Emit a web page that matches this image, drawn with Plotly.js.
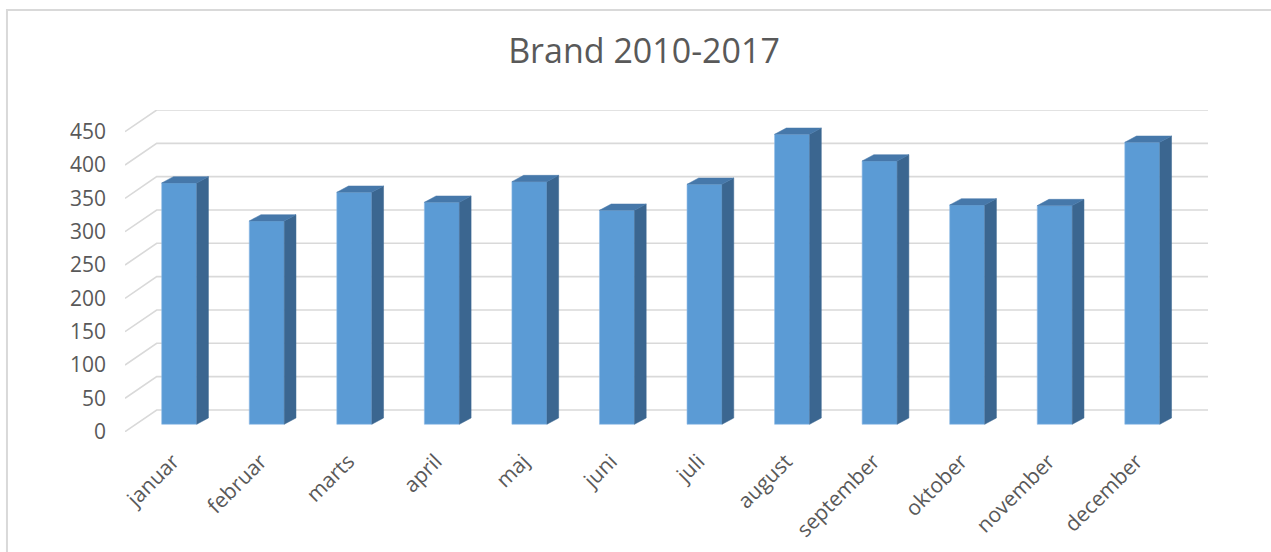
<!DOCTYPE html>
<html>
<head>
<meta charset="utf-8">
<script src="https://cdn.plot.ly/plotly-3.0.1.min.js"></script>
<style>
  html, body { margin: 0; padding: 0; background: #ffffff; }
  #chart { width: 1271px; height: 552px; }
</style>
</head>
<body>
<div id="chart"></div>
<script>
// ---- data ----
var months = ["januar", "februar", "marts", "april", "maj", "juni", "juli", "august", "september", "oktober", "november", "december"];
var counts = [362, 305, 348, 333, 364, 321, 360, 435, 395, 329, 328, 423];
var yTicks = [0, 50, 100, 150, 200, 250, 300, 350, 400, 450];
var chartTitle = "Brand 2010-2017";

// ---- geometry (style constants, pixels) ----
var W = 1271, H = 552;
var plotL = 125, plotR = 1207.7, plotT = 110, plotB = 431.7;
var pxPerCat = 87.53, pxPerVal = 300 / 450;
var firstCenterPx = 179.2, barBasePx = 424.3;
var wallDX = 31.7, wallBasePx = 410;    // back wall offset from front axis plane
var barDepthDX = 11.7, barDepthDY = 6.3; // bar depth in px
var barW = 0.4;
var labelShiftPx = 6;

var xMin = (plotL - firstCenterPx) / pxPerCat;
var xMax = (plotR - firstCenterPx) / pxPerCat;
var yMin = (barBasePx - plotB) / pxPerVal;
var yMax = (barBasePx - plotT) / pxPerVal;
var frontOff = yMin;                              // value offset of front axis plane
var wallOff = (barBasePx - wallBasePx) / pxPerVal; // value offset of back wall
var wallX0 = xMin + wallDX / pxPerCat;
var ddx = barDepthDX / pxPerCat, ddy = barDepthDY / pxPerVal;

var gridColor = "#d9d9d9", textColor = "#595959";
var font = "'Open Sans', 'Noto Sans', sans-serif";

// ---- back wall grid + floor diagonals (main axes) ----
var gx = [], gy = [];
yTicks.forEach(function (v) {
  gx.push(xMin, wallX0, xMax, null);
  gy.push(v + frontOff, v + wallOff, v + wallOff, null);
});
var gridTrace = {
  type: "scatter", mode: "lines", x: gx, y: gy, xaxis: "x", yaxis: "y",
  line: { color: gridColor, width: 1.6 }, hoverinfo: "skip", showlegend: false
};

// ---- bars (overlay axes) ----
var idx = months.map(function (m, i) { return i; });
var barTrace = {
  type: "bar", x: idx, y: counts, width: barW, xaxis: "x2", yaxis: "y2",
  marker: { color: "#5b9bd5", line: { color: "#8fbbe6", width: 0.6 } },
  hovertext: months, hoverinfo: "text+y", showlegend: false
};
var sx = [], sy = [], tx = [], ty = [];
counts.forEach(function (v, i) {
  var r = i + barW / 2, l = i - barW / 2;
  sx.push(r, r + ddx, r + ddx, r, r, null);
  sy.push(0, ddy, v + ddy, v, 0, null);
  tx.push(l, r, r + ddx, l + ddx, l, null);
  ty.push(v, v, v + ddy, v + ddy, v, null);
});
var sideTrace = {
  type: "scatter", mode: "lines", x: sx, y: sy, xaxis: "x2", yaxis: "y2",
  fill: "toself", fillcolor: "#3b6690", line: { color: "#3b6690", width: 0.5 },
  hoverinfo: "skip", showlegend: false
};
var topTrace = {
  type: "scatter", mode: "lines", x: tx, y: ty, xaxis: "x2", yaxis: "y2",
  fill: "toself", fillcolor: "#4678aa", line: { color: "#4678aa", width: 0.5 },
  hoverinfo: "skip", showlegend: false
};

// ---- border of chart area ----
var pw = plotR - plotL, ph = plotB - plotT;
function px2paperX(p) { return (p - plotL) / pw; }
function px2paperY(p) { return (plotB - p) / ph; }

var layout = {
  width: W, height: H,
  paper_bgcolor: "#ffffff", plot_bgcolor: "rgba(0,0,0,0)",
  margin: { l: plotL, r: W - plotR, t: plotT, b: H - plotB, pad: 0 },
  font: { family: font, color: textColor },
  title: {
    text: chartTitle, font: { family: font, size: 34, color: textColor },
    xref: "container", yref: "container", x: 644 / W, y: 1 - 51 / H,
    xanchor: "center", yanchor: "middle"
  },
  xaxis: {
    range: [xMin, xMax], showgrid: false, zeroline: false, showline: false,
    tickmode: "array", tickvals: idx.map(function (i) { return i - labelShiftPx / pxPerCat; }),
    ticktext: months, tickangle: -45,
    ticks: "", ticklabelstandoff: 12,
    tickfont: { family: font, size: 21, color: textColor }, fixedrange: true
  },
  yaxis: {
    range: [yMin - 0.5, yMax], showgrid: false, zeroline: false, showline: false,
    tickmode: "array", tickvals: yTicks.map(function (v) { return v + frontOff; }),
    ticktext: yTicks.map(String), ticks: "", ticklabelstandoff: 18,
    tickfont: { family: font, size: 21, color: textColor }, fixedrange: true
  },
  xaxis2: { overlaying: "x", range: [xMin, xMax], visible: false, fixedrange: true },
  yaxis2: { overlaying: "y", range: [yMin - 0.5, yMax], visible: false, fixedrange: true },
  shapes: [{
    type: "rect", xref: "paper", yref: "paper", layer: "below",
    x0: px2paperX(7), x1: px2paperX(W + 10), y0: px2paperY(H + 10), y1: px2paperY(10),
    line: { color: gridColor, width: 2 }, fillcolor: "rgba(0,0,0,0)"
  }],
  showlegend: false
};

Plotly.newPlot("chart", [gridTrace, barTrace, sideTrace, topTrace], layout, { displayModeBar: false, staticPlot: true });
</script>
</body>
</html>
